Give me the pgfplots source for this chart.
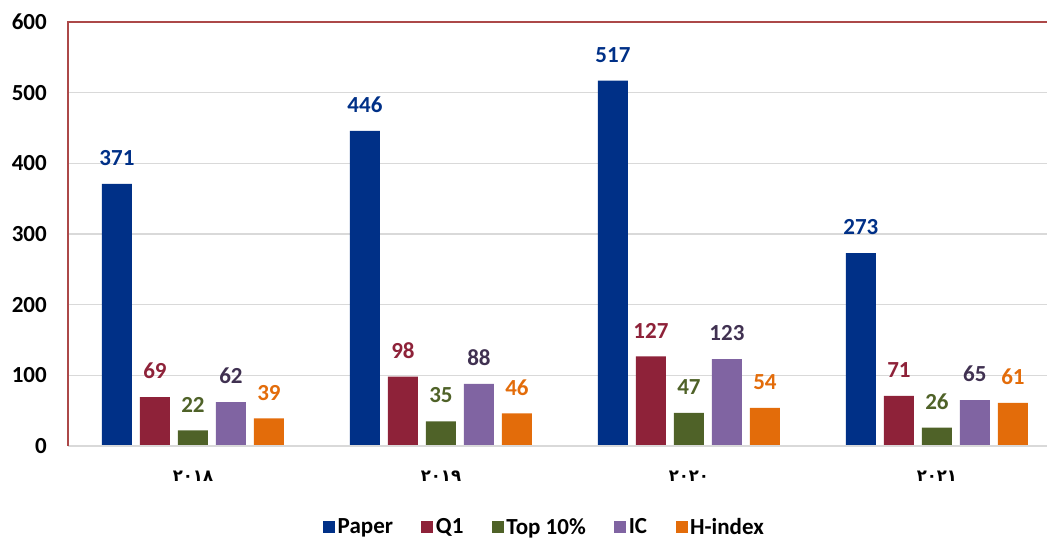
\documentclass[border=0pt]{standalone}
\usepackage{fontspec}
\setmainfont{Carlito}
\newfontfamily\arabicfont[Script=Arabic]{DejaVu Sans}
\usepackage{pgfplots}
\pgfplotsset{compat=1.18}
\definecolor{cPaper}{RGB}{0,48,135}
\definecolor{cQ}{RGB}{142,34,57}
\definecolor{cTop}{RGB}{79,98,40}
\definecolor{cIC}{RGB}{128,100,162}
\definecolor{cICt}{RGB}{64,49,81}
\definecolor{cH}{RGB}{227,108,10}
\definecolor{frame}{RGB}{172,72,72}
\definecolor{gridgray}{RGB}{217,217,217}
\pgfplotsset{sq/.style={legend image code/.code={\fill[##1,draw=none] (0bp,-6bp) rectangle (12bp,6bp);}}}
\begin{document}
\begin{tikzpicture}
\begin{axis}[
  scale only axis, width=979bp, height=424bp,
  clip=false,
  ybar, bar width=0.121,
  ymin=0, ymax=600, ytick={0,100,...,600},
  xmin=-0.504, xmax=3.444,
  xtick={0,1,2,3},
  xticklabels={{\arabicfont\bfseries ٢٠١٨},{\arabicfont\bfseries ٢٠١٩},{\arabicfont\bfseries ٢٠٢٠},{\arabicfont\bfseries ٢٠٢١}},
  ymajorgrids, grid style={draw=gridgray, line width=1.5bp},
  major tick length=0pt,
  axis line style={draw=none},
  /pgf/number format/assume math mode=true,
  yticklabel style={font=\fontsize{23bp}{27bp}\selectfont\bfseries, inner sep=0pt, xshift=-21bp},
  xticklabel style={font=\fontsize{16.5bp}{19bp}\selectfont, inner sep=0pt, anchor=north, yshift=-25bp},
  nodes near coords,
  every node near coord/.append style={font=\fontsize{23bp}{27bp}\selectfont\bfseries, inner sep=0pt, anchor=south, yshift=18bp},
  legend columns=-1,
  legend style={draw=none, fill=none, at={(rel axis cs:0.487,-0.191)}, anchor=center,
    font=\fontsize{23bp}{27bp}\selectfont\bfseries,
    /tikz/every even column/.append style={column sep=26bp},
    nodes={inner sep=2.5bp}},
]
\addplot[sq, fill=cPaper, draw=none, bar shift=-0.3065, every node near coord/.append style={text=cPaper}]
  coordinates {(0,371) (1,446) (2,517) (3,273)};
\addplot[sq, fill=cQ, draw=none, bar shift=-0.1532, every node near coord/.append style={text=cQ}]
  coordinates {(0,69) (1,98) (2,127) (3,71)};
\addplot[sq, fill=cTop, draw=none, bar shift=0, every node near coord/.append style={text=cTop}]
  coordinates {(0,22) (1,35) (2,47) (3,26)};
\addplot[sq, fill=cIC, draw=none, bar shift=0.1532, every node near coord/.append style={text=cICt}]
  coordinates {(0,62) (1,88) (2,123) (3,65)};
\addplot[sq, fill=cH, draw=none, bar shift=0.3065, every node near coord/.append style={text=cH}]
  coordinates {(0,39) (1,46) (2,54) (3,61)};
\legend{Paper, Q1, Top 10\%, IC, H-index}
\draw[gridgray, line width=2bp] (rel axis cs:0,0) -- (rel axis cs:1,0);
\draw[frame, line width=2bp] (rel axis cs:0,0) -- (rel axis cs:0,1) -- (rel axis cs:1,1);
\coordinate (pl) at (rel axis cs:0,0);
\end{axis}
\pgfresetboundingbox
\path ([xshift=-68bp,yshift=-94bp]pl) rectangle ([xshift=979bp,yshift=446bp]pl);
\end{tikzpicture}
\end{document}
